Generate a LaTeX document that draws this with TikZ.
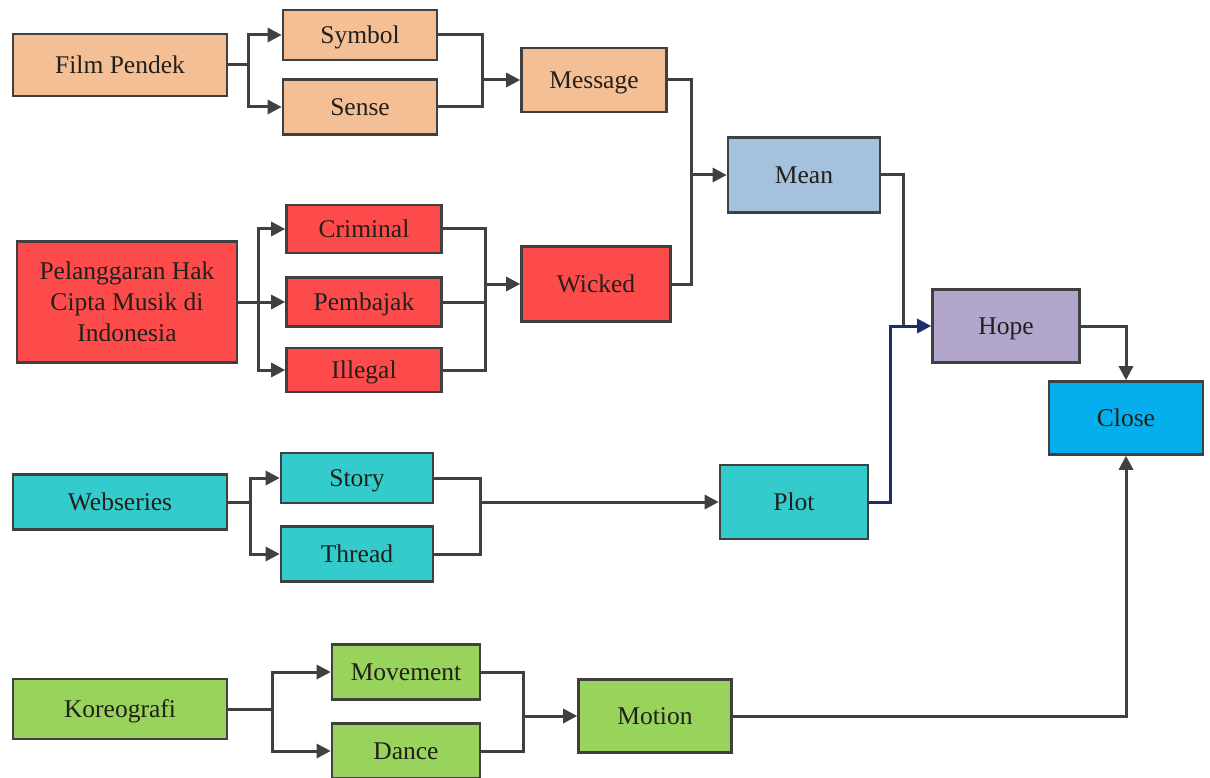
\documentclass[tikz,border=0pt]{standalone}
\usepackage{fontspec}
\setmainfont{Liberation Serif}
\usetikzlibrary{arrows.meta}
\definecolor{cpeach}{HTML}{F5BF96}
\definecolor{cred}{HTML}{FD4B4B}
\definecolor{cmean}{HTML}{A5C1DE}
\definecolor{chope}{HTML}{B2A6CC}
\definecolor{cclose}{HTML}{05AEEC}
\definecolor{cteal}{HTML}{33CBCB}
\definecolor{cgreen}{HTML}{98D35C}
\definecolor{cline}{HTML}{404040}
\definecolor{cnavy}{HTML}{1C2F6B}
\definecolor{ctext}{HTML}{231F1A}
\tikzset{
  box/.style={draw=cline, line width=2.6pt, inner sep=0pt, align=center,
    text=ctext, font=\fontsize{25.5}{31}\selectfont},
  one/.style={text height=17pt, text depth=0pt},
  conn/.style={draw=cline, line width=3pt},
  arr/.style={conn, -{Triangle[length=14pt,width=14pt]}},
  navyarr/.style={draw=cnavy, line width=3pt, -{Triangle[length=14pt,width=14pt]}}
}
\begin{document}
\begin{tikzpicture}[x=1pt,y=-1pt]
\clip (0,0) rectangle (1210,778);
\fill[white] (0,0) rectangle (1210,778);
% row 1
\node[box, one, fill=cpeach, minimum width=214pt, minimum height=62pt] (film) at (120,65) {Film Pendek};
\node[box, one, fill=cpeach, minimum width=154pt, minimum height=50pt] (symbol) at (360,35) {Symbol};
\node[box, one, fill=cpeach, minimum width=154pt, minimum height=55pt] (sense) at (360,107) {Sense};
\node[box, one, fill=cpeach, minimum width=145pt, minimum height=64pt] (message) at (594,80) {Message};
\node[box, one, fill=cmean, minimum width=152pt, minimum height=75pt] (mean) at (804,175) {Mean};
% row 2
\node[box, fill=cred, minimum width=220pt, minimum height=121pt] (pel) at (127,302) {Pelanggaran Hak\\Cipta Musik di\\Indonesia};
\node[box, one, fill=cred, minimum width=155pt, minimum height=48pt] (criminal) at (364,229) {Criminal};
\node[box, one, fill=cred, minimum width=155pt, minimum height=49pt] (pembajak) at (364,302) {Pembajak};
\node[box, one, fill=cred, minimum width=155pt, minimum height=44pt] (illegal) at (364,370) {Illegal};
\node[box, one, fill=cred, minimum width=149pt, minimum height=75pt] (wicked) at (596,284) {Wicked};
% right
\node[box, one, fill=chope, minimum width=147pt, minimum height=73pt] (hope) at (1006,326) {Hope};
\node[box, one, fill=cclose, minimum width=154pt, minimum height=73pt] (close) at (1126,418) {Close};
% row 3
\node[box, one, fill=cteal, minimum width=214pt, minimum height=55pt] (web) at (120,502) {Webseries};
\node[box, one, fill=cteal, minimum width=152pt, minimum height=50pt] (story) at (357,478) {Story};
\node[box, one, fill=cteal, minimum width=152pt, minimum height=55pt] (thread) at (357,554) {Thread};
\node[box, one, fill=cteal, minimum width=148pt, minimum height=74pt] (plot) at (794,502) {Plot};
% row 4
\node[box, one, fill=cgreen, minimum width=214pt, minimum height=60pt] (kor) at (120,709) {Koreografi};
\node[box, one, fill=cgreen, minimum width=148pt, minimum height=55pt] (movement) at (406,672) {Movement};
\node[box, one, fill=cgreen, minimum width=148pt, minimum height=55pt] (dance) at (406,751) {Dance};
\node[box, one, fill=cgreen, minimum width=153pt, minimum height=73pt] (motion) at (655,716) {Motion};

% junction coordinates
\coordinate (fb) at (248,65);
\coordinate (sm) at (482,80);
\coordinate (mm) at (691,175);
\coordinate (pb) at (258,302);
\coordinate (cw) at (485,284);
\coordinate (mh) at (903,326);
\coordinate (ph) at (890,326);
\coordinate (wb) at (250,502);
\coordinate (st) at (480,502);
\coordinate (kb) at (272,709);
\coordinate (md) at (523,716);

% row 1 connectors
\draw[conn] (film.east) -- (fb);
\draw[arr] (fb) |- (symbol.west);
\draw[arr] (fb) |- (sense.west);
\draw[conn] (symbol.east) -| (sm);
\draw[conn] (sense.east) -| (sm);
\draw[arr] (sm) -- (message.west);
\draw[conn] (message.east) -| (mm);
\draw[conn] (wicked.east) -| (mm);
\draw[arr] (mm) -- (mean.west);
% row 2 connectors
\draw[conn] (pel.east) -- (pb);
\draw[arr] (pb) |- (criminal.west);
\draw[arr] (pb) -- (pembajak.west);
\draw[arr] (pb) |- (illegal.west);
\draw[conn] (criminal.east) -| (cw);
\draw[conn] (illegal.east) -| (cw);
\draw[conn] (pembajak.east) -- (pembajak.east -| cw);
\draw[arr] (cw) -- (wicked.west);
% right connectors
\draw[conn] (mean.east) -| (mh);
\draw[navyarr] (plot.east) -| (ph) -- (hope.west);
\draw[arr] (hope.east) -| (close.north);
\draw[arr] (motion.east) -| (close.south);
% row 3 connectors
\draw[conn] (web.east) -- (wb);
\draw[arr] (wb) |- (story.west);
\draw[arr] (wb) |- (thread.west);
\draw[conn] (story.east) -| (st);
\draw[conn] (thread.east) -| (st);
\draw[arr] (st) -- (plot.west);
% row 4 connectors
\draw[conn] (kor.east) -- (kb);
\draw[arr] (kb) |- (movement.west);
\draw[arr] (kb) |- (dance.west);
\draw[conn] (movement.east) -| (md);
\draw[conn] (dance.east) -| (md);
\draw[arr] (md) -- (motion.west);
\end{tikzpicture}
\end{document}
